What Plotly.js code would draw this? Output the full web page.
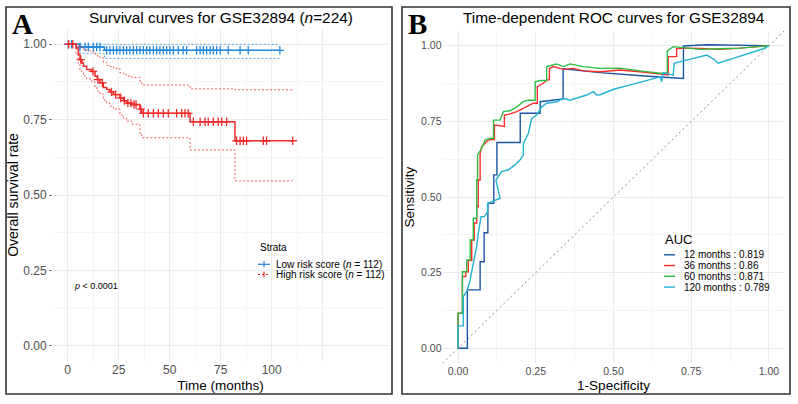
<!DOCTYPE html>
<html>
<head>
<meta charset="utf-8">
<script src="https://cdn.plot.ly/plotly-3.0.1.min.js"></script>
<style>html,body{margin:0;padding:0;background:#fff;}#chart{width:798px;height:404px;}</style>
</head>
<body>
<div id="chart"></div>
<script>
// ---------- Panel A: Kaplan-Meier data ----------
const lowTime  = [0, 6, 18, 104];
const lowSurv  = [1.0, 0.991, 0.980, 0.980];
const lowUpper = [1.0, 1.0, 1.0, 1.0];
const lowLower = [1.0, 0.970, 0.953, 0.953];
const lowCensor = [0.3, 1.9, 6.0, 8.5, 10.1, 12.6, 14.2, 15.8, 19.1, 20.7, 22.4, 24.0, 25.6, 27.3, 28.9, 30.5, 32.2, 33.8, 35.4, 37.1, 38.7, 40.3, 42.0, 43.6, 45.2, 46.9, 48.5, 50.1, 51.8, 54.2, 56.6, 58.3, 63.2, 64.9, 66.5, 68.1, 69.8, 71.4, 73.0, 74.7, 78.7, 84.5, 88.5, 104.0];

const highTime  = [0, 4.1, 5.2, 6.0, 6.9, 7.7, 9.3, 11.8, 13.4, 14.5, 15.8, 17.5, 19.1, 20.7, 22.4, 25.6, 27.3, 28.9, 31.4, 35.4, 36.3, 60, 82, 110.3];
const highSurv  = [1.0, 0.988, 0.966, 0.949, 0.938, 0.927, 0.916, 0.910, 0.894, 0.883, 0.872, 0.857, 0.850, 0.842, 0.833, 0.822, 0.813, 0.805, 0.800, 0.785, 0.771, 0.743, 0.680, 0.680];
const highUpper = [1.0, 1.0, 0.995, 0.990, 0.986, 0.982, 0.978, 0.975, 0.965, 0.960, 0.955, 0.940, 0.930, 0.926, 0.920, 0.905, 0.900, 0.895, 0.890, 0.878, 0.865, 0.852, 0.849, 0.849];
const highLower = [1.0, 0.965, 0.935, 0.915, 0.905, 0.895, 0.885, 0.875, 0.855, 0.845, 0.835, 0.815, 0.805, 0.795, 0.785, 0.765, 0.755, 0.745, 0.735, 0.705, 0.690, 0.649, 0.547, 0.547];
const highCensor = [0.5, 2.5, 6.4, 12.4, 14.8, 17.0, 21.5, 23.5, 26.0, 27.8, 29.5, 31.0, 32.5, 33.5, 35.8, 37.1, 39.5, 42.0, 44.4, 46.9, 49.3, 53.4, 55.9, 57.5, 59.1, 61.6, 64.9, 67.3, 68.9, 71.4, 73.8, 75.5, 77.9, 82.8, 84.5, 86.1, 87.7, 95.9, 97.5, 110.3];

const strataNames = ["Low risk score (<i>n</i> = 112)", "High risk score (<i>n</i> = 112)"];
const pValueText = "<i>p</i> < 0.0001";
const kmTicksX = [0, 25, 50, 75, 100, 125];
const kmTickTextX = ["0", "25", "50", "75", "100", ""];
const probTicks = [0, 0.25, 0.5, 0.75, 1];
const probTickText = ["0.00", "0.25", "0.50", "0.75", "1.00"];

// ---------- Panel B: time-dependent ROC data ----------
const roc12x = [0, 0.03, 0.03, 0.071, 0.071, 0.084, 0.084, 0.096, 0.096, 0.115, 0.115, 0.125, 0.125, 0.2, 0.2, 0.264, 0.264, 0.338, 0.338, 0.457, 0.6, 0.725, 0.725, 0.8, 1];
const roc12y = [0, 0, 0.193, 0.193, 0.286, 0.286, 0.382, 0.382, 0.479, 0.479, 0.573, 0.573, 0.68, 0.68, 0.777, 0.777, 0.815, 0.824, 0.924, 0.911, 0.9, 0.892, 0.999, 1.003, 1];

const roc36x = [0, 0, 0.014, 0.014, 0.025, 0.025, 0.033, 0.033, 0.044, 0.044, 0.052, 0.052, 0.06, 0.06, 0.065, 0.065, 0.071, 0.071, 0.076, 0.092, 0.103, 0.117, 0.117, 0.14, 0.149, 0.149, 0.162, 0.189, 0.21, 0.232, 0.242, 0.255, 0.255, 0.274, 0.287, 0.294, 0.294, 0.306, 0.339, 0.371, 0.403, 0.457, 0.521, 0.585, 0.628, 0.666, 0.676, 0.676, 0.703, 0.703, 0.725, 0.778, 0.842, 0.907, 0.971, 1];
const roc36y = [0, 0.116, 0.116, 0.237, 0.237, 0.253, 0.253, 0.29, 0.29, 0.358, 0.358, 0.414, 0.414, 0.468, 0.468, 0.556, 0.556, 0.644, 0.666, 0.683, 0.69, 0.69, 0.738, 0.733, 0.733, 0.771, 0.773, 0.782, 0.793, 0.804, 0.81, 0.81, 0.865, 0.876, 0.887, 0.887, 0.925, 0.931, 0.922, 0.925, 0.917, 0.914, 0.92, 0.914, 0.909, 0.903, 0.903, 0.964, 0.964, 0.991, 0.992, 0.991, 0.988, 0.992, 0.996, 1];

const roc60x = [0, 0, 0.014, 0.014, 0.028, 0.028, 0.039, 0.039, 0.049, 0.049, 0.06, 0.06, 0.063, 0.063, 0.076, 0.087, 0.103, 0.114, 0.114, 0.135, 0.146, 0.167, 0.189, 0.21, 0.226, 0.248, 0.248, 0.264, 0.285, 0.285, 0.317, 0.339, 0.36, 0.403, 0.457, 0.521, 0.585, 0.65, 0.673, 0.673, 0.692, 0.778, 0.842, 0.907, 1];
const roc60y = [0, 0.116, 0.116, 0.253, 0.253, 0.292, 0.292, 0.358, 0.358, 0.43, 0.43, 0.556, 0.556, 0.639, 0.661, 0.688, 0.694, 0.694, 0.754, 0.754, 0.782, 0.785, 0.798, 0.815, 0.82, 0.82, 0.881, 0.885, 0.885, 0.931, 0.94, 0.931, 0.94, 0.931, 0.925, 0.926, 0.917, 0.909, 0.909, 0.983, 0.997, 0.988, 0.99, 0.992, 1];

const roc120x = [0, 0, 0.017, 0.017, 0.028, 0.039, 0.049, 0.06, 0.065, 0.074, 0.085, 0.095, 0.095, 0.108, 0.124, 0.135, 0.122, 0.126, 0.14, 0.162, 0.183, 0.199, 0.21, 0.21, 0.226, 0.237, 0.253, 0.269, 0.285, 0.317, 0.339, 0.36, 0.382, 0.414, 0.435, 0.446, 0.457, 0.5, 0.564, 0.617, 0.65, 0.655, 0.66, 0.692, 0.695, 0.725, 0.778, 0.8, 0.826, 0.837, 0.885, 0.939, 0.982, 1];
const roc120y = [0, 0.074, 0.074, 0.171, 0.187, 0.226, 0.281, 0.336, 0.38, 0.435, 0.435, 0.451, 0.479, 0.485, 0.49, 0.496, 0.556, 0.562, 0.584, 0.59, 0.606, 0.622, 0.639, 0.677, 0.71, 0.76, 0.771, 0.798, 0.81, 0.815, 0.826, 0.82, 0.826, 0.837, 0.848, 0.837, 0.838, 0.856, 0.873, 0.889, 0.897, 0.881, 0.911, 0.903, 0.942, 0.95, 0.964, 0.969, 0.953, 0.942, 0.958, 0.977, 0.99, 1];

const rocLabels = ["12 months : 0.819", "36 months : 0.86", "60 months : 0.871", "120 months : 0.789"];
const diagX = [-0.05, 1.05];
const diagY = [-0.05, 1.05];

// ---------- styles ----------
const FONT = "Liberation Sans, Arial, sans-serif";
const W = 798, H = 404;
const fx = p => p / W;
const fy = p => 1 - p / H;
const blue = "#2487DE", red = "#EE2C2C";
const rocColors = ["#1B55A3", "#FF2D2D", "#2EBE44", "#22B2D2"];
const gridCol = "#EBEBEB", minorGrid = "#F2F2F2";

function stepAt(times, vals, t) {
  let v = vals[0];
  for (let i = 0; i < times.length; i++) { if (times[i] <= t) v = vals[i]; }
  return v;
}

const traces = [];
function kmTraces(time, surv, up, lo, cens, color, name) {
  traces.push({x: time, y: up, mode: "lines", opacity: 0.75, line: {shape: "hv", color: color, width: 1, dash: "2px,2px"}, xaxis: "x", yaxis: "y", showlegend: false, hoverinfo: "skip"});
  traces.push({x: time, y: lo, mode: "lines", opacity: 0.75, line: {shape: "hv", color: color, width: 1, dash: "2px,2px"}, xaxis: "x", yaxis: "y", showlegend: false, hoverinfo: "skip"});
  traces.push({x: time, y: surv, mode: "lines", name: name, line: {shape: "hv", color: color, width: 1.5}, xaxis: "x", yaxis: "y", showlegend: false});
  traces.push({x: cens, y: cens.map(t => stepAt(time, surv, t)), mode: "markers", name: name + " censored",
    marker: {symbol: "cross-thin", size: 6, line: {width: 1.3, color: color}, color: color}, xaxis: "x", yaxis: "y", showlegend: false});
}
kmTraces(lowTime, lowSurv, lowUpper, lowLower, lowCensor, blue, strataNames[0]);
kmTraces(highTime, highSurv, highUpper, highLower, highCensor, red, strataNames[1]);

traces.push({x: diagX, y: diagY, mode: "lines", line: {color: "#8a8a8a", width: 1, dash: "2px,3px"}, xaxis: "x2", yaxis: "y2", showlegend: false, hoverinfo: "skip"});
const rocX = [roc12x, roc36x, roc60x, roc120x];
const rocY = [roc12y, roc36y, roc60y, roc120y];
for (let i = 0; i < 4; i++) {
  traces.push({x: rocX[i], y: rocY[i], mode: "lines", name: rocLabels[i], line: {color: rocColors[i], width: 1.4}, xaxis: "x2", yaxis: "y2", showlegend: false});
}

const tickFontA = {family: FONT, size: 12, color: "#4D4D4D"};
const tickFontB = {family: FONT, size: 10.5, color: "#4D4D4D"};
const titleFont = {family: FONT, size: 13.5, color: "#000"};

const annotations = [
  {text: "Survival curves for GSE32894 (<i>n</i>=224)", x: fx(220.5), y: fy(17), xref: "paper", yref: "paper", showarrow: false, xanchor: "center", yanchor: "middle", font: {family: FONT, size: 15.4, color: "#000"}},
  {text: "Time-dependent ROC curves for GSE32894", x: fx(613.5), y: fy(17), xref: "paper", yref: "paper", showarrow: false, xanchor: "center", yanchor: "middle", font: {family: FONT, size: 15.4, color: "#000"}},
  {text: "<b>A</b>", x: fx(10), y: fy(24), xref: "paper", yref: "paper", showarrow: false, xanchor: "left", yanchor: "middle", font: {family: "Liberation Serif, Times New Roman, serif", size: 29, color: "#000"}},
  {text: "<b>B</b>", x: fx(406), y: fy(24), xref: "paper", yref: "paper", showarrow: false, xanchor: "left", yanchor: "middle", font: {family: "Liberation Serif, Times New Roman, serif", size: 29, color: "#000"}},
  {text: pValueText, x: 2.1, y: 0.198, xref: "x", yref: "y", showarrow: false, xanchor: "left", yanchor: "middle", font: {family: FONT, size: 9, color: "#000"}},
  {text: "Strata", x: fx(258), y: fy(247.5), xref: "paper", yref: "paper", showarrow: false, xanchor: "left", yanchor: "middle", font: {family: FONT, size: 10, color: "#000"}},
  {text: "AUC", x: fx(663), y: fy(239), xref: "paper", yref: "paper", showarrow: false, xanchor: "left", yanchor: "middle", font: {family: FONT, size: 13, color: "#000"}}
];
const legAY = [264.3, 274.5];
const legAColors = [blue, red];
const shapes = [
  {type: "rect", xref: "paper", yref: "paper", x0: fx(6), x1: fx(392), y0: fy(394), y1: fy(7), line: {color: "#333", width: 1.6}},
  {type: "rect", xref: "paper", yref: "paper", x0: fx(402), x1: fx(790), y0: fy(394), y1: fy(7), line: {color: "#333", width: 1.6}}
];
for (let i = 0; i < 2; i++) {
  annotations.push({text: strataNames[i], x: fx(273.5), y: fy(legAY[i]), xref: "paper", yref: "paper", showarrow: false, xanchor: "left", yanchor: "middle", font: {family: FONT, size: 10, color: "#000"}});
  shapes.push({type: "line", xref: "paper", yref: "paper", x0: fx(258), x1: fx(270), y0: fy(legAY[i]), y1: fy(legAY[i]), line: {color: legAColors[i], width: 1.2, dash: i === 1 ? "2px,2px" : "solid"}});
  shapes.push({type: "line", xref: "paper", yref: "paper", x0: fx(264), x1: fx(264), y0: fy(legAY[i] - 3), y1: fy(legAY[i] + 3), line: {color: legAColors[i], width: 1.2}});
}
for (let i = 0; i < 4; i++) {
  const yy = 254.8 + i * 10.75;
  annotations.push({text: rocLabels[i], x: fx(681.5), y: fy(yy), xref: "paper", yref: "paper", showarrow: false, xanchor: "left", yanchor: "middle", font: {family: FONT, size: 10, color: "#000"}});
  shapes.push({type: "line", xref: "paper", yref: "paper", x0: fx(664), x1: fx(675), y0: fy(yy), y1: fy(yy), line: {color: rocColors[i], width: 1.4}});
}

const layout = {
  width: W, height: H,
  margin: {l: 0, r: 0, t: 0, b: 0},
  paper_bgcolor: "#fff", plot_bgcolor: "#fff",
  showlegend: false,
  font: {family: FONT},
  xaxis: {
    domain: [fx(53), fx(388)], range: [-7.2, 157], anchor: "y",
    tickmode: "array", tickvals: kmTicksX, ticktext: kmTickTextX,
    showgrid: true, gridcolor: gridCol, gridwidth: 1, zeroline: false, showline: false, ticks: "",
    minor: {tickmode: "array", tickvals: [12.5, 37.5, 62.5, 87.5, 112.5], showgrid: true, gridcolor: minorGrid, gridwidth: 0.8},
    tickfont: tickFontA,
    title: {text: "Time (months)", font: titleFont, standoff: 4}
  },
  yaxis: {
    domain: [fy(360.8), fy(29.2)], range: [-0.05, 1.05], anchor: "x",
    tickmode: "array", tickvals: probTicks, ticktext: probTickText,
    showgrid: true, gridcolor: gridCol, gridwidth: 1, zeroline: false, showline: false,
    ticks: "outside", ticklen: 3, tickcolor: "#777", tickwidth: 1,
    minor: {tickmode: "array", tickvals: [0.125, 0.375, 0.625, 0.875], showgrid: true, gridcolor: minorGrid, gridwidth: 0.8, ticks: ""},
    tickfont: tickFontA,
    title: {text: "Overall survival rate", font: {family: FONT, size: 14, color: "#000"}, standoff: 1}
  },
  xaxis2: {
    domain: [fx(442.5), fx(784.5)], range: [-0.05, 1.05], anchor: "y2",
    tickmode: "array", tickvals: probTicks, ticktext: probTickText,
    showgrid: true, gridcolor: gridCol, gridwidth: 1, zeroline: false, showline: false, ticks: "",
    minor: {tickmode: "array", tickvals: [0.125, 0.375, 0.625, 0.875], showgrid: true, gridcolor: minorGrid, gridwidth: 0.8},
    tickfont: tickFontB,
    title: {text: "1-Specificity", font: titleFont, standoff: 4}
  },
  yaxis2: {
    domain: [fy(363.4), fy(30.6)], range: [-0.05, 1.05], anchor: "x2",
    tickmode: "array", tickvals: probTicks, ticktext: probTickText,
    showgrid: true, gridcolor: gridCol, gridwidth: 1, zeroline: false, showline: false, ticks: "",
    minor: {tickmode: "array", tickvals: [0.125, 0.375, 0.625, 0.875], showgrid: true, gridcolor: minorGrid, gridwidth: 0.8},
    tickfont: tickFontB,
    title: {text: "Sensitivity", font: titleFont, standoff: 3}
  },
  annotations: annotations,
  shapes: shapes
};

Plotly.newPlot("chart", traces, layout, {staticPlot: true, displayModeBar: false});
</script>
</body>
</html>
